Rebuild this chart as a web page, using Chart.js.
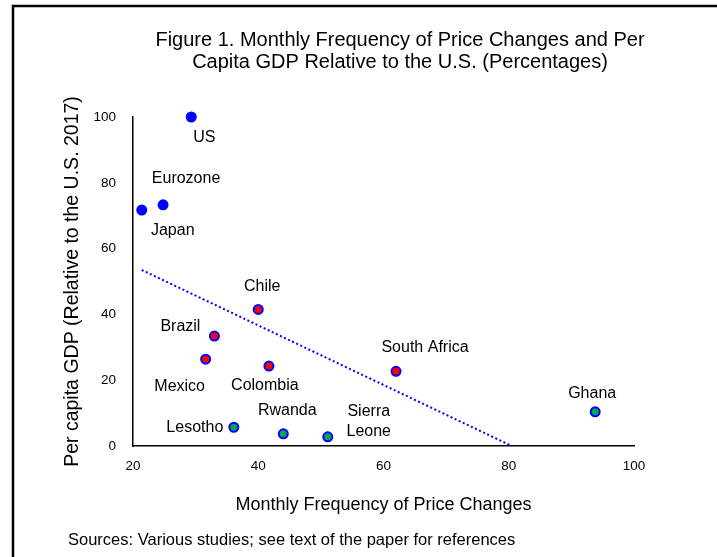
<!DOCTYPE html>
<html lang="en">
<head>
<meta charset="utf-8">
<title>Figure 1. Monthly Frequency of Price Changes</title>
<script src="https://cdn.jsdelivr.net/npm/chart.js@4.4.1/dist/chart.umd.min.js"></script>
<style>
    html, body { margin: 0; padding: 0; background: #ffffff; }
    canvas { display: block; }
</style>
</head>
<body>
<canvas id="graficaPrecios" width="717" height="557"></canvas>
<script>
/* ==========================================================================
   DATOS
   ========================================================================== */
const paisesAvanzados = ['US', 'Eurozone', 'Japan'];
const frecuenciaAvanzados = [29.3, 24.8, 21.4];
const pibAvanzados = [100, 73.3, 71.7];

const paisesEmergentes = ['Chile', 'Brazil', 'Mexico', 'Colombia', 'South Africa'];
const frecuenciaEmergentes = [40.0, 33.0, 31.6, 41.7, 62.0];
const pibEmergentes = [41.5, 33.4, 26.4, 24.3, 22.7];

const paisesBajos = ['Ghana', 'Lesotho', 'Rwanda', 'Sierra Leone'];
const frecuenciaBajos = [93.8, 36.1, 44.0, 51.1];
const pibBajos = [10.4, 5.7, 3.7, 2.8];

const frecuenciaTendencia = [21.4, 80.5];
const pibTendencia = [53.5, 0];

const marcasX = [20, 40, 60, 80, 100];
const marcasY = [0, 20, 40, 60, 80, 100];

const tituloLineas = [
    'Figure 1. Monthly Frequency of Price Changes and Per',
    'Capita GDP Relative to the U.S. (Percentages)'
];
const textoFuente = 'Sources: Various studies; see text of the paper for references';

/* ==========================================================================
   ESTILOS Y POSICIONES DE ETIQUETAS
   ========================================================================== */
const FUENTE = "'Liberation Sans', Arial, sans-serif";
const AZUL = '#0000ff';

// desplazamiento (px) de cada etiqueta respecto a su punto, por dataset
const desplazamientos = [
    [[13, 21], [23, -26], [31, 20]],
    [[4, -23], [-34, -10], [-26, 27], [-4, 20], [29, -24]],
    [[-3, -18], [-39, 0], [4, -23], [41, -15]]
];
const nombresPorDataset = [paisesAvanzados, paisesEmergentes, paisesBajos];

function unirPuntos(xs, ys) {
    return xs.map((x, i) => ({ x: x, y: ys[i] }));
}

const pluginMarco = {
    id: 'marco',
    beforeDraw(chart) {
        const ctx = chart.ctx;
        ctx.save();
        ctx.fillStyle = '#ffffff';
        ctx.fillRect(0, 0, chart.width, chart.height);
        ctx.strokeStyle = '#000000';
        ctx.lineWidth = 2.5;
        ctx.beginPath();
        ctx.moveTo(13, chart.height);
        ctx.lineTo(13, 6);
        ctx.lineTo(chart.width, 6);
        ctx.stroke();

        ctx.fillStyle = '#000000';
        ctx.textAlign = 'center';
        ctx.textBaseline = 'middle';
        ctx.font = `20px ${FUENTE}`;
        ctx.fillText(tituloLineas[0], 400, 40);
        ctx.fillText(tituloLineas[1], 400, 62);

        ctx.textAlign = 'left';
        ctx.font = `16.5px ${FUENTE}`;
        ctx.fillText(textoFuente, 68, 540);
        ctx.restore();
    }
};

const pluginEtiquetas = {
    id: 'etiquetas',
    afterDatasetsDraw(chart) {
        const ctx = chart.ctx;
        ctx.save();
        ctx.fillStyle = '#000000';
        ctx.font = `16px ${FUENTE}`;
        ctx.textAlign = 'center';
        ctx.textBaseline = 'middle';
        nombresPorDataset.forEach((nombres, d) => {
            const meta = chart.getDatasetMeta(d);
            nombres.forEach((nombre, i) => {
                const punto = meta.data[i];
                const [dx, dy] = desplazamientos[d][i];
                const lineas = nombre === 'Sierra Leone' ? ['Sierra', 'Leone'] : [nombre];
                lineas.forEach((linea, k) => {
                    ctx.fillText(linea, punto.x + dx, punto.y + dy + k * 20 - (lineas.length - 1) * 10);
                });
            });
        });
        ctx.restore();
    }
};

/* ==========================================================================
   GRÁFICA
   ========================================================================== */
new Chart(document.getElementById('graficaPrecios'), {
    type: 'scatter',
    data: {
        datasets: [
            {
                data: unirPuntos(frecuenciaAvanzados, pibAvanzados),
                backgroundColor: AZUL, borderColor: AZUL, borderWidth: 0,
                pointRadius: 5.5, clip: false
            },
            {
                data: unirPuntos(frecuenciaEmergentes, pibEmergentes),
                backgroundColor: '#ff0000', borderColor: AZUL, borderWidth: 2,
                pointRadius: 4.5, clip: false
            },
            {
                data: unirPuntos(frecuenciaBajos, pibBajos),
                backgroundColor: '#00a651', borderColor: AZUL, borderWidth: 2,
                pointRadius: 4.5, clip: false
            },
            {
                data: unirPuntos(frecuenciaTendencia, pibTendencia),
                showLine: true, pointRadius: 0, borderColor: AZUL, borderWidth: 2,
                borderDash: [2, 2.5], order: 1, clip: false
            }
        ]
    },
    options: {
        responsive: false,
        animation: false,
        events: [],
        layout: { padding: { left: 40, right: 83, top: 117, bottom: 41 } },
        plugins: {
            legend: { display: false },
            tooltip: { enabled: false },
            title: { display: false }
        },
        scales: {
            x: {
                type: 'linear', min: 20, max: 100,
                grid: { display: false, drawTicks: false },
                border: { display: true, color: '#000000', width: 1.5 },
                ticks: { padding: 12, color: '#000000', font: { size: 13.5, family: FUENTE } },
                afterBuildTicks: escala => { escala.ticks = marcasX.map(v => ({ value: v })); },
                afterFit: escala => { escala.height = 70; },
                title: {
                    display: true, text: 'Monthly Frequency of Price Changes', color: '#000000',
                    font: { size: 18, family: FUENTE }, padding: { top: 0, bottom: 0 }
                }
            },
            y: {
                type: 'linear', min: 0, max: 100,
                grid: { display: false, drawTicks: false },
                border: { display: true, color: '#000000', width: 1.5 },
                ticks: { padding: 17, color: '#000000', font: { size: 13.5, family: FUENTE } },
                afterBuildTicks: escala => { escala.ticks = marcasY.map(v => ({ value: v })); },
                afterFit: escala => { escala.width = 93; },
                title: {
                    display: true, text: 'Per capita GDP (Relative to the U.S. 2017)', color: '#000000',
                    font: { size: 19.5, family: FUENTE }, padding: { top: 21.3, bottom: 0 }
                }
            }
        }
    },
    plugins: [pluginMarco, pluginEtiquetas]
});
</script>
</body>
</html>
